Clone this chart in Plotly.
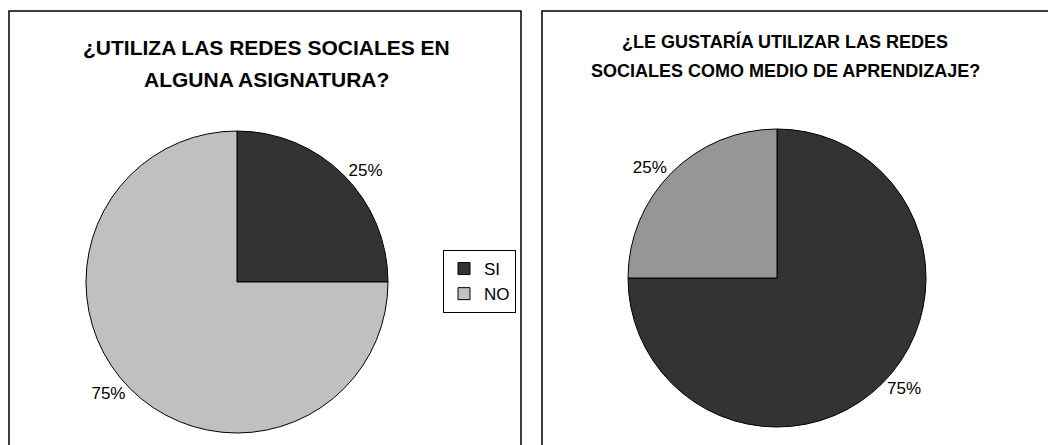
import plotly.graph_objects as go

labels = ["SI", "NO"]
values_left = [25, 75]
values_right = [75, 25]
title_left = ["¿UTILIZA LAS REDES SOCIALES EN", "ALGUNA ASIGNATURA?"]
title_right = ["¿LE GUSTARÍA UTILIZAR LAS REDES", "SOCIALES COMO MEDIO DE APRENDIZAJE?"]
colors_left = ["#333333", "#C0C0C0"]
colors_right = ["#333333", "#969696"]

W, H = 1056, 445
OFF = 8  # page body margin
FONT = "Liberation Sans, Arial, sans-serif"

def px(x):
    return (x - OFF) / W

def py(y):
    return 1 - (y - OFF) / H

fig = go.Figure()

fig.add_trace(go.Pie(
    labels=labels, values=values_left, sort=False, direction="clockwise", rotation=0,
    marker=dict(colors=colors_left, line=dict(color="black", width=1)),
    textinfo="percent", textposition="outside",
    textfont=dict(family=FONT, size=17, color="black"),
    domain=dict(x=[px(237 - 151), px(237 + 151)], y=[py(433), py(131)]),
    legend="legend", hoverinfo="label+percent",
))
fig.add_trace(go.Pie(
    labels=labels, values=values_right, sort=False, direction="clockwise", rotation=0,
    marker=dict(colors=colors_right, line=dict(color="black", width=1)),
    textinfo="percent", textposition="outside",
    textfont=dict(family=FONT, size=17, color="black"),
    domain=dict(x=[px(777 - 149), px(777 + 149)], y=[py(427), py(129)]),
    legend="legend2", hoverinfo="label+percent",
))

annotations = []
for line, y in zip(title_left, [47, 79]):
    annotations.append(dict(text="<b>" + line + "</b>", x=px(266), y=py(y), xref="paper", yref="paper",
                            xanchor="center", yanchor="middle", showarrow=False,
                            font=dict(family=FONT, size=21, color="black")))
for line, y in zip(title_right, [41, 71]):
    annotations.append(dict(text="<b>" + line + "</b>", x=px(785), y=py(y), xref="paper", yref="paper",
                            xanchor="center", yanchor="middle", showarrow=False,
                            font=dict(family=FONT, size=18, color="black")))

fig.update_layout(
    width=W, height=H, margin=dict(l=0, r=0, t=0, b=0),
    paper_bgcolor="white", plot_bgcolor="white",
    font=dict(family=FONT, color="black"),
    legend=dict(x=px(516), y=py(250), xanchor="right", yanchor="top",
                bordercolor="black", borderwidth=1, bgcolor="white",
                font=dict(family=FONT, size=17, color="black")),
    legend2=dict(x=px(1009), y=py(256), xanchor="left", yanchor="top",
                 bordercolor="black", borderwidth=1, bgcolor="white",
                 font=dict(family=FONT, size=17, color="black")),
    shapes=[
        dict(type="rect", xref="paper", yref="paper", x0=px(9), x1=px(521), y0=-0.05, y1=py(11),
             line=dict(color="black", width=1.5), fillcolor="rgba(0,0,0,0)", layer="below"),
        dict(type="rect", xref="paper", yref="paper", x0=px(542), x1=1.05, y0=-0.05, y1=py(11),
             line=dict(color="black", width=1.5), fillcolor="rgba(0,0,0,0)", layer="below"),
    ],
    annotations=annotations,
)

fig.write_html("out.html")
